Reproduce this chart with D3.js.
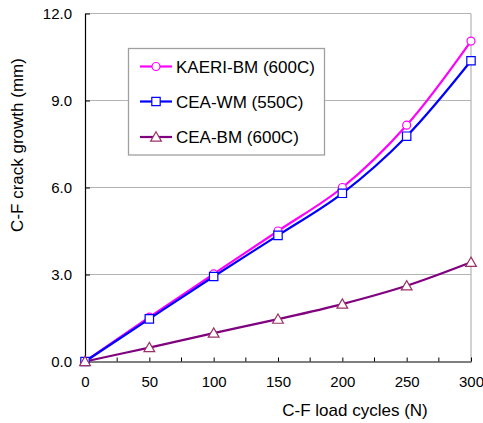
<!DOCTYPE html>
<html>
<head>
<meta charset="utf-8">
<script src="https://cdn.jsdelivr.net/npm/d3@7"></script>
<style>
  body { margin: 0; background: #fff; }
  svg { font-family: Arial, "Liberation Sans", sans-serif; }
</style>
</head>
<body>
<svg id="chart" width="483" height="423"></svg>
<script>
const cycles = [0, 50, 100, 150, 200, 250, 300];
const kaeriBM = [0, 1.53, 3.02, 4.5, 6.0, 8.15, 11.05];
const ceaWM = [0, 1.47, 2.93, 4.35, 5.8, 7.77, 10.37];
const ceaBM = [0, 0.48, 0.98, 1.46, 1.98, 2.61, 3.42];
const seriesNames = ["KAERI-BM (600C)", "CEA-WM (550C)", "CEA-BM (600C)"];
const xTicks = [0, 50, 100, 150, 200, 250, 300];
const xMinorTicks = [25, 75, 125, 175, 225, 275];
const yTicks = [0, 3, 6, 9, 12];

(function () {
const series = [
  { name: seriesNames[0], values: kaeriBM, line: "#ff00ff", marker: "#ff00ff", shape: "circle" },
  { name: seriesNames[1], values: ceaWM, line: "#0000ff", marker: "#0000ff", shape: "square" },
  { name: seriesNames[2], values: ceaBM, line: "#800080", marker: "#993366", shape: "triangle" }
];

const FONT = "Arial, 'Liberation Sans', sans-serif";
const svg = d3.select("#chart");
const pL = 85, pR = 471, pT = 13.5, pB = 361.5;
const x = d3.scaleLinear().domain([0, 300]).range([pL, pR]);
const y = d3.scaleLinear().domain([0, 12]).range([pB, pT]);

// gridlines
svg.append("g").selectAll("line").data(yTicks.filter(d => d > 0)).join("line")
  .attr("x1", pL).attr("x2", pR)
  .attr("y1", d => y(d)).attr("y2", d => y(d))
  .attr("stroke", "#b4b4b4").attr("stroke-width", 1.2);
// right border
svg.append("line").attr("x1", pR).attr("x2", pR).attr("y1", pT).attr("y2", pB)
  .attr("stroke", "#b4b4b4").attr("stroke-width", 1.2);

// axes
const yAxis = d3.axisLeft(y).tickValues(yTicks).tickFormat(d3.format(".1f")).tickSizeInner(-5).tickSizeOuter(0).tickPadding(13);
const gy = svg.append("g").attr("transform", `translate(${pL},0)`).call(yAxis);
gy.selectAll("text").attr("font-size", 15).attr("fill", "#000").attr("font-family", FONT);
gy.select(".domain").attr("stroke", "#000").attr("stroke-width", 1.2);
gy.selectAll(".tick line").attr("stroke", "#000");

const xAxis = d3.axisBottom(x).tickValues(xTicks).tickSizeInner(-4).tickSizeOuter(0).tickPadding(15);
const gx = svg.append("g").attr("transform", `translate(0,${pB})`).call(xAxis);
gx.selectAll("text").attr("font-size", 15).attr("fill", "#000").attr("font-family", FONT);
gx.select(".domain").attr("stroke", "#000").attr("stroke-width", 1.2);
gx.selectAll(".tick line").attr("stroke", "#000");
gx.selectAll("line.minor").data(xMinorTicks).join("line").attr("class", "minor")
  .attr("x1", d => x(d)).attr("x2", d => x(d)).attr("y1", 0).attr("y2", -4).attr("stroke", "#000");

// axis titles
svg.append("text").attr("x", 355).attr("y", 416).attr("text-anchor", "middle")
  .attr("font-size", 17).text("C-F load cycles (N)");
svg.append("text").attr("transform", "translate(23,145) rotate(-90)").attr("text-anchor", "middle")
  .attr("font-size", 17).text("C-F crack growth (mm)");

// lines
const line = d3.line().x((d, i) => x(cycles[i])).y(d => y(d)).curve(d3.curveCatmullRom.alpha(0.5));
const sym = { circle: d3.symbolCircle, square: d3.symbolSquare, triangle: d3.symbolTriangle };
const symSize = { circle: 50, square: 70, triangle: 50 };

series.forEach(s => {
  svg.append("path").datum(s.values).attr("d", line)
    .attr("fill", "none").attr("stroke", s.line).attr("stroke-width", 2.2);
});
series.forEach(s => {
  svg.append("g").selectAll("path").data(s.values).join("path")
    .attr("transform", (d, i) => `translate(${x(cycles[i])},${y(d) + (s.shape === "triangle" ? 1 : 0)})`)
    .attr("d", d3.symbol().type(sym[s.shape]).size(symSize[s.shape]))
    .attr("fill", "#fff").attr("stroke", s.marker).attr("stroke-width", 1.2);
});

// legend
const lg = svg.append("g");
lg.append("rect").attr("x", 128.5).attr("y", 48.5).attr("width", 196).attr("height", 106.5)
  .attr("fill", "#fff").attr("stroke", "#a0a0a0").attr("stroke-width", 1.3);
const rowY = [66.5, 101.5, 137];
series.forEach((s, i) => {
  const g = lg.append("g").attr("transform", `translate(0,${rowY[i]})`);
  g.append("line").attr("x1", 140).attr("x2", 172).attr("y1", 0).attr("y2", 0)
    .attr("stroke", s.line).attr("stroke-width", 2.2);
  g.append("path").attr("transform", `translate(156,${s.shape === "triangle" ? 1 : 0})`)
    .attr("d", d3.symbol().type(sym[s.shape]).size(symSize[s.shape]))
    .attr("fill", "#fff").attr("stroke", s.marker).attr("stroke-width", 1.2);
  g.append("text").attr("x", 176).attr("y", 6).attr("font-size", 17).text(s.name);
});
})();
</script>
</body>
</html>
